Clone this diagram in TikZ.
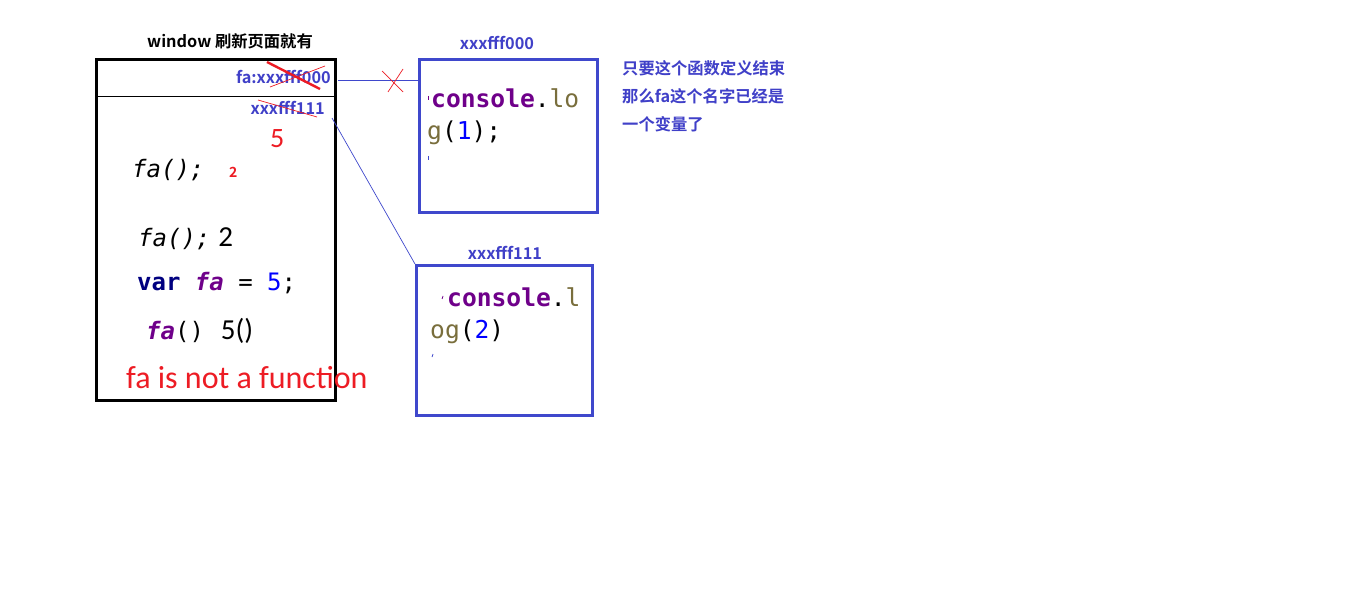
\documentclass[tikz,border=0pt]{standalone}
\usepackage{fontspec}
\newfontfamily\cjk{Noto Sans CJK SC}[BoldFont={* Bold}]
\newfontfamily\codefont{DejaVu Sans Mono}
\newfontfamily\calfont{Carlito}
\definecolor{boxblue}{RGB}{63,72,204}
\definecolor{txtblue}{RGB}{64,64,200}
\definecolor{pred}{RGB}{237,28,36}
\definecolor{cpurple}{RGB}{111,0,138}
\definecolor{colive}{RGB}{121,110,60}
\definecolor{cnavy}{RGB}{0,0,128}
\definecolor{cblue}{RGB}{0,0,255}
\newcommand{\fsz}[1]{\fontsize{#1}{#1}\selectfont}
\begin{document}
\begin{tikzpicture}[x=1pt,y=-1pt,
  txt/.style={inner sep=0pt, anchor=base west},
  lbl/.style={inner sep=0pt, anchor=base, font=\cjk\bfseries\fsz{16.3}, text=txtblue},
  membox/.style={draw=boxblue, line width=3pt, anchor=north west, inner sep=0pt},
  winbox/.style={draw=black, line width=2.6pt, anchor=north west, inner sep=0pt},
  link/.style={draw=boxblue, line width=0.7pt},
  strike/.style={draw=pred, line width=0.7pt},
  codeline/.style={txt, font=\codefont\fsz{24.6}}]
\path[fill=white] (0,0) rectangle (1360,591);
\useasboundingbox (0,0) rectangle (1360,591);

% window box
\node[winbox, minimum width=239pt, minimum height=341pt] (win) at (95,58) {};
\draw[line width=0.8pt] (win.west |- 0,96) coordinate (sepl) -- (win.east |- 0,96) coordinate (sepr);
\node[inner sep=0pt, anchor=base, font=\cjk\bfseries\fsz{16.3}] (wtitle) at (230,48) {window 刷新页面就有};

% fa: xxxfff000 label
\node[inner sep=0pt, anchor=base east, font=\cjk\bfseries\fsz{16.3}, text=txtblue] (fa0) at (331,84) {fa:xxxfff000};
\draw[draw=pred, line width=2.4pt] (267,62) -- (320,89);
\draw[strike] (270,87) -- (325,66);

\node[inner sep=0pt, anchor=base east, font=\cjk\bfseries\fsz{16.3}, text=txtblue] (fa1) at (325,115) {xxxfff111};
\draw[strike] (258,100) -- (317,117);

\node[txt, font=\calfont\fsz{28}, text=pred] (five) at (270,148) {5};

% code in window
\node[txt, font=\codefont\itshape\fsz{24}] (call1) at (132,177) {fa();};
\node[txt, font=\cjk\bfseries\fsz{14}, text=pred] (two1) at (229,177) {2};
\node[txt, font=\codefont\fsz{24}] (call2) at (138,246) {\itshape fa();\upshape\hspace{8pt}\calfont\fsz{29}2};
\node[txt, font=\codefont\bfseries\fsz{24}] (decl) at (137,290) {\textcolor{cnavy}{var} \textcolor{cpurple}{\itshape fa} \mdseries= \textcolor{cblue}{5};};
\node[txt, font=\codefont\fsz{24}] (call3) at (146,339) {\textcolor{cpurple}{\bfseries\itshape fa}()\hspace{17pt}\calfont\fsz{29}5()};
\node[txt, font=\calfont\fsz{32}, text=pred] (err) at (126,388) {fa is not a function};

% memory box 1
\node[membox, minimum width=178pt, minimum height=153pt] (box1) at (418,58) {};
\node[lbl] (lab1) at (497,50) {xxxfff000};
\node[codeline] (c1a) at (431,108) {\textcolor{cpurple}{\bfseries console}.\textcolor{colive}{lo}};
\node[codeline] (c1b) at (427,140) {\textcolor{colive}{g}(\textcolor{cblue}{1});};
\draw[draw=cpurple, line width=0.8pt] (428.5,96) -- (428.5,100);
\draw[draw=boxblue, line width=0.8pt] (428.5,156) -- (428.5,160);

% memory box 2
\node[membox, minimum width=176pt, minimum height=150pt] (box2) at (415,264) {};
\node[lbl] (lab2) at (505,259) {xxxfff111};
\node[codeline] (c2a) at (447,306) {\textcolor{cpurple}{\bfseries console}.\textcolor{colive}{l}};
\node[codeline] (c2b) at (430,338) {\textcolor{colive}{og}(\textcolor{cblue}{2})};
\draw[draw=cpurple, line width=0.8pt] (443,296) -- (442,299);
\draw[draw=boxblue, line width=0.8pt] (433,354) -- (432,357);

% connectors
\coordinate (s1) at (338,80);
\draw[link] (s1) -- (s1 -| box1.west);
\draw[strike] (382,71) -- (403,92);
\draw[strike] (403,69) -- (388,92);
\coordinate (s2) at (332,118);
\draw[link] (s2) -- (box2.north west);

% note
\node[txt, font=\cjk\bfseries\fsz{16.3}, text=txtblue] (n1) at (622,75) {只要这个函数定义结束};
\node[txt, font=\cjk\bfseries\fsz{16.3}, text=txtblue] (n2) at (622,103) {那么fa这个名字已经是};
\node[txt, font=\cjk\bfseries\fsz{16.3}, text=txtblue] (n3) at (622,131) {一个变量了};
\end{tikzpicture}
\end{document}
